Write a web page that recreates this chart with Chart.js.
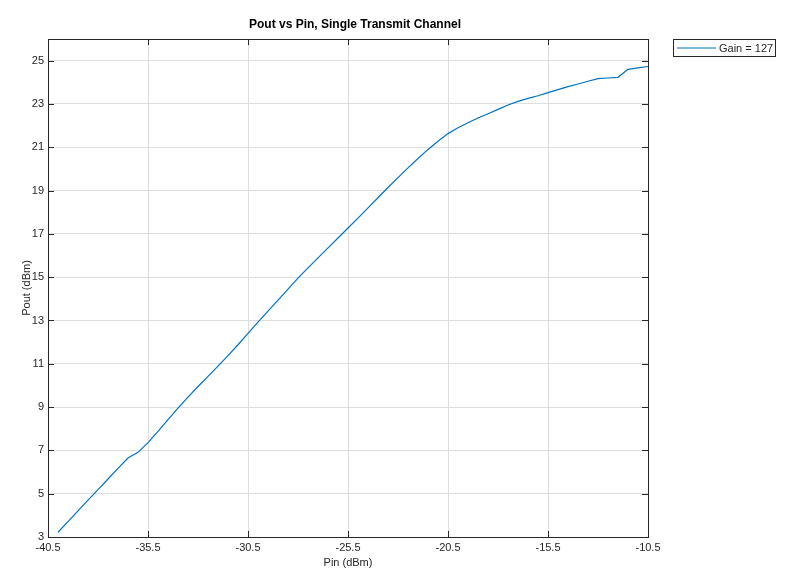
<!DOCTYPE html>
<html>
<head>
<meta charset="utf-8">
<title>Pout vs Pin</title>
<script src="https://cdn.jsdelivr.net/npm/chart.js@4.4.1/dist/chart.umd.min.js"></script>
<style>
  html, body { margin: 0; padding: 0; background: #ffffff; }
  #wrap { width: 797px; height: 584px; }
</style>
</head>
<body>
<div id="wrap"><canvas id="poutChart" width="797" height="584"></canvas></div>
<script>
// Input power sweep (dBm)
const pinDbm = [
  -40.0, -39.5, -39.0, -38.5, -38.0, -37.5, -37.0, -36.5, -36.0, -35.5,
  -35.0, -34.5, -34.0, -33.5, -33.0, -32.5, -32.0, -31.5, -31.0, -30.5,
  -30.0, -29.5, -29.0, -28.5, -28.0, -27.5, -27.0, -26.5, -26.0, -25.5,
  -25.0, -24.5, -24.0, -23.5, -23.0, -22.5, -22.0, -21.5, -21.0, -20.5,
  -20.0, -19.5, -19.0, -18.5, -18.0, -17.5, -17.0, -16.5, -16.0, -15.5,
  -15.0, -14.5, -14.0, -13.5, -13.0, -12.5, -12.0, -11.5, -11.0, -10.5
];
// Measured output power (dBm), gain setting 127
const poutGain127 = [
  3.22, 3.71, 4.21, 4.70, 5.19, 5.68, 6.17, 6.65, 6.91, 7.36,
  7.88, 8.42, 8.95, 9.46, 9.95, 10.42, 10.89, 11.38, 11.88, 12.40,
  12.92, 13.43, 13.94, 14.45, 14.96, 15.43, 15.89, 16.35, 16.81, 17.27,
  17.73, 18.20, 18.67, 19.14, 19.60, 20.05, 20.48, 20.90, 21.28, 21.63,
  21.90, 22.13, 22.35, 22.55, 22.75, 22.95, 23.12, 23.26, 23.38, 23.52,
  23.66, 23.80, 23.92, 24.05, 24.17, 24.20, 24.23, 24.60, 24.67, 24.73
];
const xTicks = [-40.5, -35.5, -30.5, -25.5, -20.5, -15.5, -10.5];
const yTicks = [3, 5, 7, 9, 11, 13, 15, 17, 19, 21, 23, 25];

const AXIS_COLOR = '#262626';
const GRID_COLOR = '#dedede';
const FONT = 'Helvetica, Arial, "Liberation Sans", sans-serif';

// MATLAB-like frame: inward ticks on all four sides, title and boxed legend
const matlabFrame = {
  id: 'matlabFrame',
  afterDraw(chart) {
    const { ctx, chartArea: a, scales } = chart;
    const tl = 6;
    ctx.save();
    ctx.strokeStyle = AXIS_COLOR;
    ctx.lineWidth = 1;
    ctx.strokeRect(Math.round(a.left) + 0.5, Math.round(a.top) + 0.5,
      Math.round(a.right - a.left), Math.round(a.bottom - a.top));
    ctx.beginPath();
    xTicks.forEach(v => {
      const px = Math.round(scales.x.getPixelForValue(v)) + 0.5;
      ctx.moveTo(px, a.bottom); ctx.lineTo(px, a.bottom - tl);
      ctx.moveTo(px, a.top); ctx.lineTo(px, a.top + tl);
    });
    yTicks.forEach(v => {
      const py = Math.round(scales.y.getPixelForValue(v)) + 0.5;
      ctx.moveTo(a.left, py); ctx.lineTo(a.left + tl, py);
      ctx.moveTo(a.right, py); ctx.lineTo(a.right - tl, py);
    });
    ctx.stroke();

    // title
    ctx.fillStyle = '#000000';
    ctx.font = 'bold 12px ' + FONT;
    ctx.textAlign = 'center';
    ctx.textBaseline = 'middle';
    ctx.fillText('Pout vs Pin, Single Transmit Channel', (a.left + a.right) / 2 + 7, 25);

    // legend
    const ds = chart.data.datasets[0];
    const lx = a.right + 25, ly = a.top, lw = 102, lh = 17;
    ctx.fillStyle = '#ffffff';
    ctx.fillRect(lx, ly, lw, lh);
    ctx.strokeStyle = AXIS_COLOR;
    ctx.strokeRect(Math.round(lx) + 0.5, Math.round(ly) + 0.5, lw, lh);
    ctx.strokeStyle = ds.borderColor;
    ctx.beginPath();
    ctx.moveTo(lx + 4, ly + lh / 2 + 0.5);
    ctx.lineTo(lx + 43, ly + lh / 2 + 0.5);
    ctx.stroke();
    ctx.fillStyle = AXIS_COLOR;
    ctx.font = '11px ' + FONT;
    ctx.textAlign = 'left';
    ctx.fillText(ds.label, lx + 46, ly + lh / 2 + 1);
    ctx.restore();
  }
};

const ctx = document.getElementById('poutChart').getContext('2d');
new Chart(ctx, {
  type: 'scatter',
  data: {
    datasets: [{
      label: 'Gain = 127',
      data: pinDbm.map((p, i) => ({ x: p, y: poutGain127[i] })),
      showLine: true,
      borderColor: '#0072BD',
      borderWidth: 1.2,
      pointRadius: 0,
      tension: 0,
      fill: false
    }]
  },
  options: {
    responsive: false,
    animation: false,
    layout: { padding: { left: 0, top: 39, right: 149, bottom: 0 } },
    plugins: {
      legend: { display: false },
      title: { display: false },
      tooltip: { enabled: false }
    },
    scales: {
      x: {
        type: 'linear',
        min: -40.5,
        max: -10.5,
        afterBuildTicks: s => { s.ticks = xTicks.map(v => ({ value: v })); },
        afterFit: s => { s.height = 47; },
        grid: { color: GRID_COLOR, drawTicks: false },
        border: { color: AXIS_COLOR },
        ticks: {
          padding: 4,
          color: AXIS_COLOR,
          font: { family: FONT, size: 11 },
          maxRotation: 0,
          callback: v => v.toFixed(1)
        },
        title: {
          display: true,
          text: 'Pin (dBm)',
          color: AXIS_COLOR,
          font: { family: FONT, size: 11 },
          padding: { bottom: 14 }
        }
      },
      y: {
        type: 'linear',
        min: 3,
        max: 26,
        afterBuildTicks: s => { s.ticks = yTicks.map(v => ({ value: v })); },
        afterFit: s => { s.width = 48; },
        grid: { color: GRID_COLOR, drawTicks: false },
        border: { color: AXIS_COLOR },
        ticks: {
          padding: 4,
          color: AXIS_COLOR,
          font: { family: FONT, size: 11 }
        },
        title: {
          display: true,
          text: 'Pout (dBm)',
          color: AXIS_COLOR,
          font: { family: FONT, size: 11 },
          padding: { top: 20 }
        }
      }
    }
  },
  plugins: [matlabFrame]
});
</script>
</body>
</html>
